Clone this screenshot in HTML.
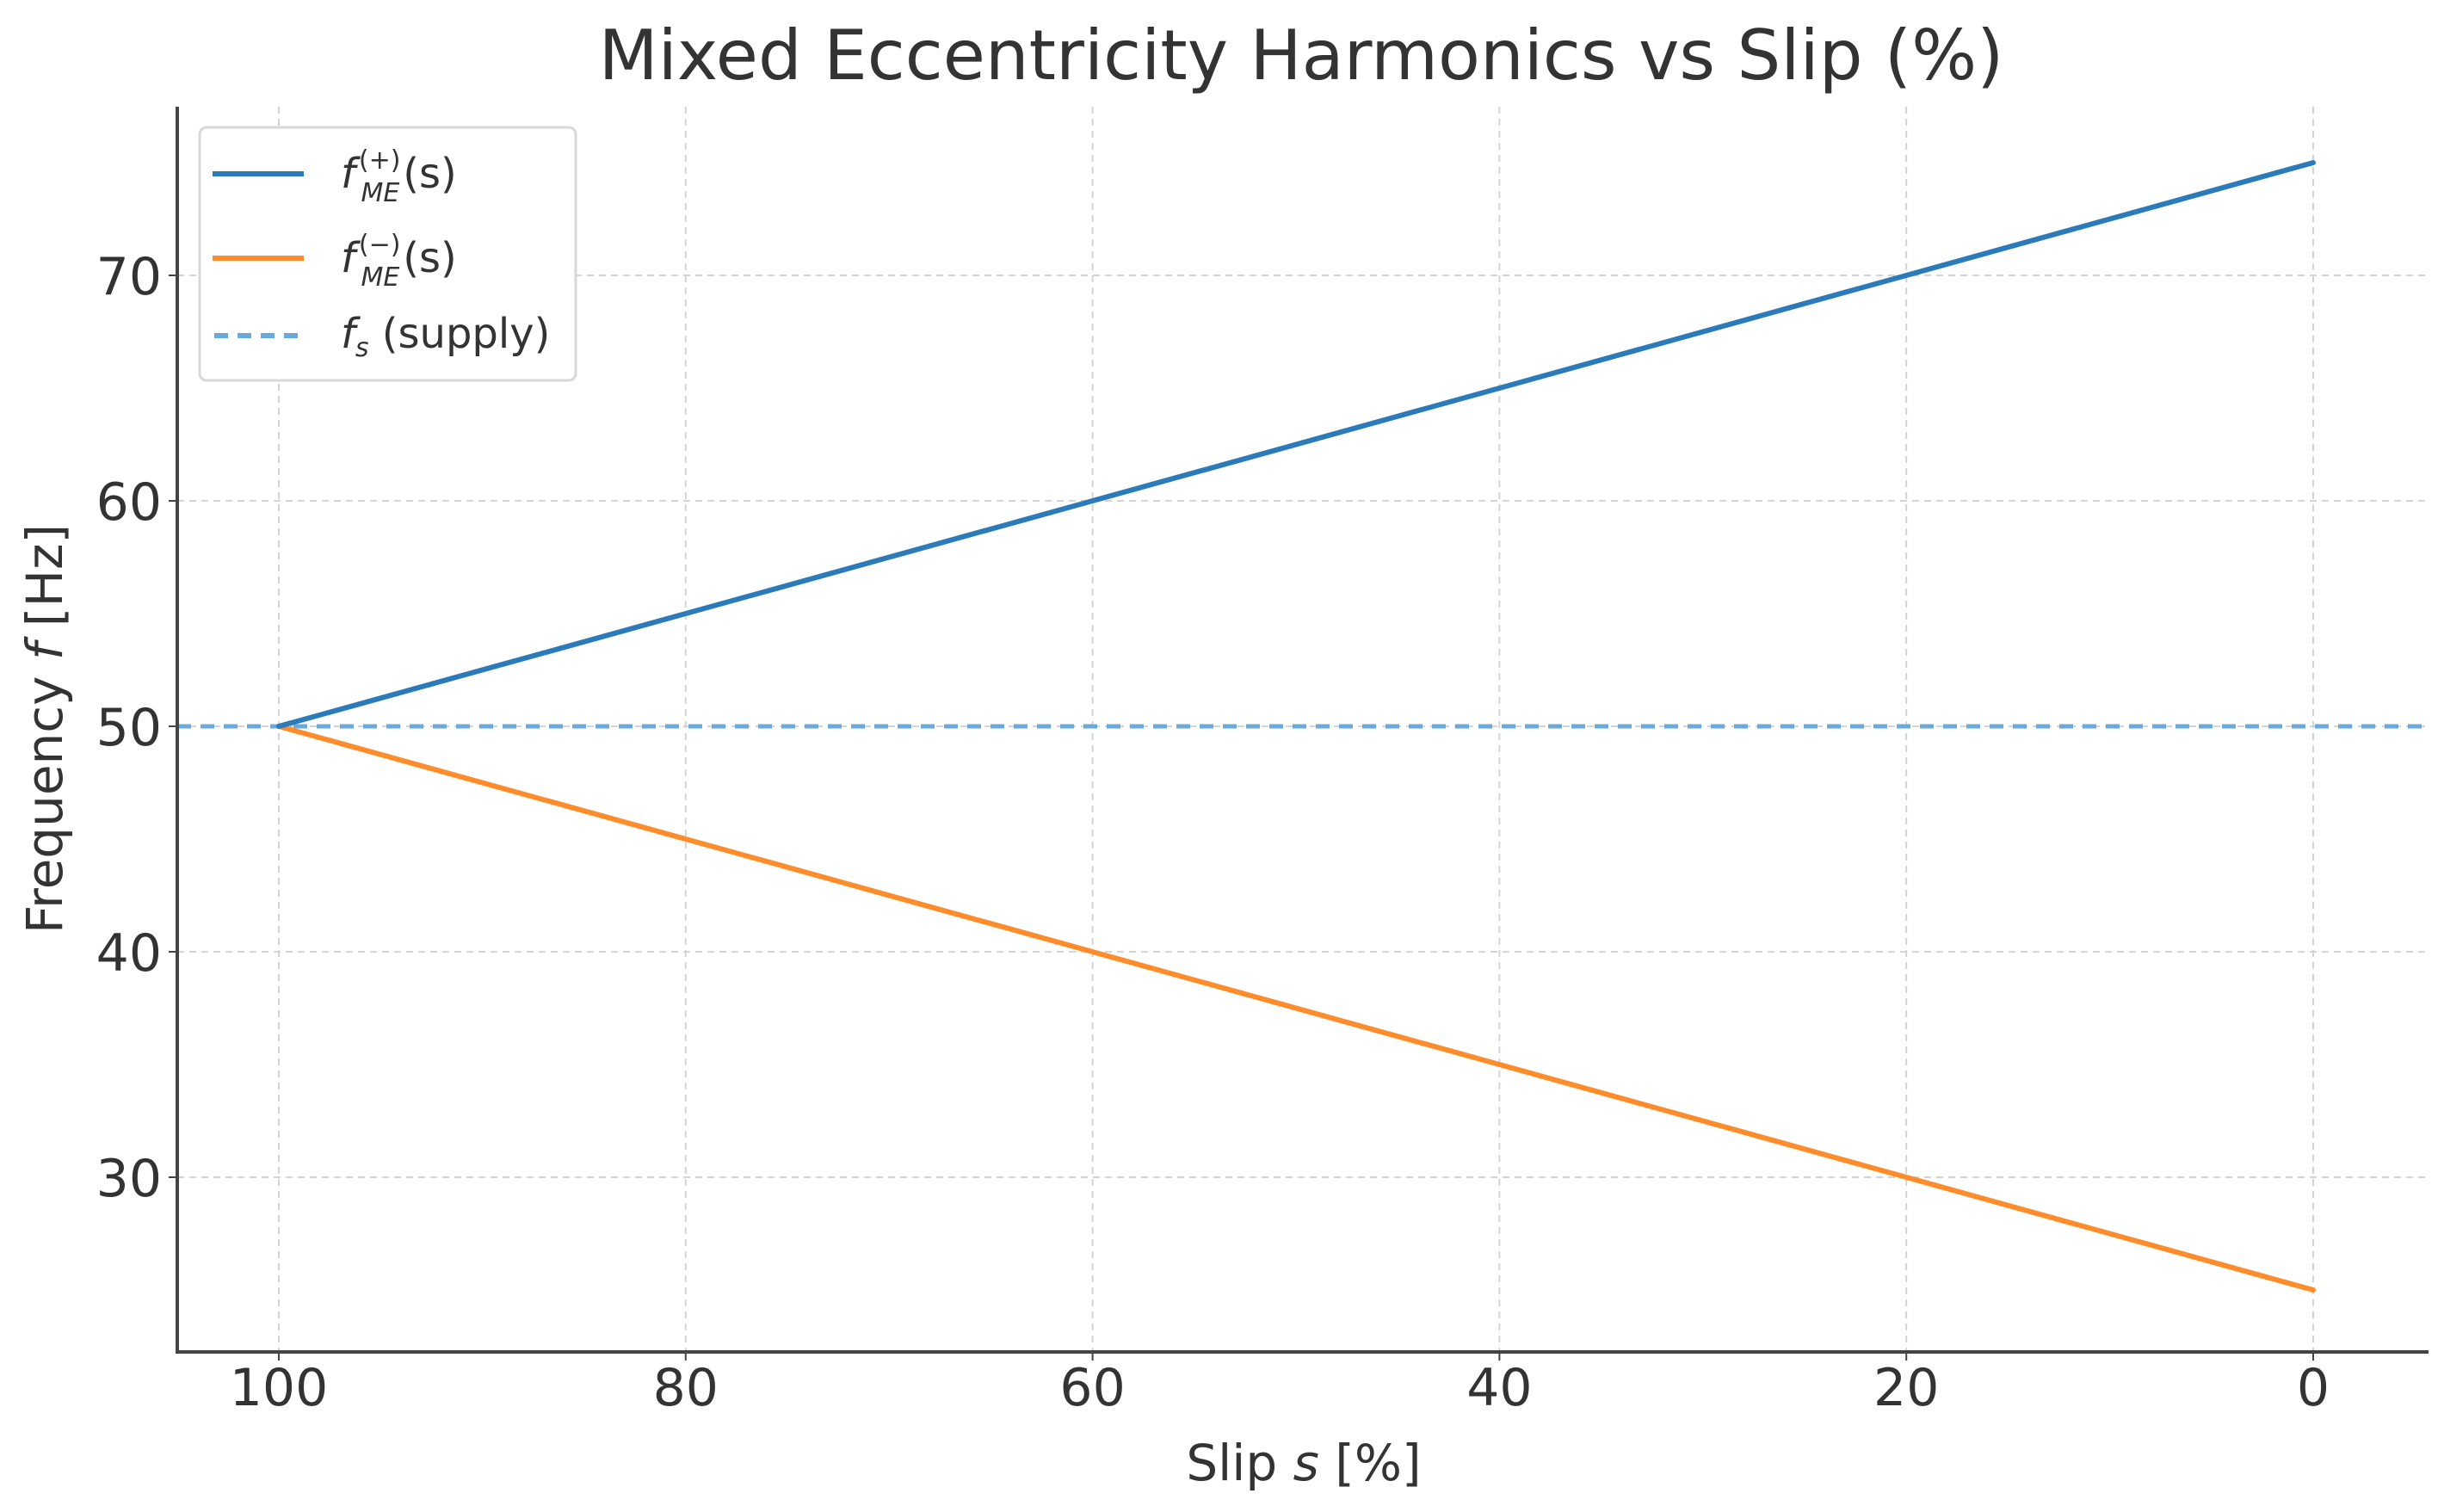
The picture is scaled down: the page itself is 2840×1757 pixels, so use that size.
<!DOCTYPE html>
<html><head><meta charset="utf-8"><style>
html,body{margin:0;padding:0;background:#fff;}
svg{display:block;font-family:"DejaVu Sans","Liberation Sans",sans-serif;}
</style></head><body>
<svg id="chart" width="2840" height="1757" viewBox="0 0 2840 1757">
<text x="1512" y="92" text-anchor="middle" font-size="80" fill="#333">Mixed Eccentricity Harmonics vs Slip (%)</text>
<g id="grid"></g>
<g id="plot"></g>
<g id="axes"></g>
<text x="1515" y="1720" text-anchor="middle" font-size="58" fill="#333">Slip <tspan font-style="italic">s</tspan> [%]</text>
<text transform="translate(72,847) rotate(-90)" text-anchor="middle" font-size="58" fill="#333">Frequency <tspan font-style="italic">f</tspan> [Hz]</text>
<g>
<rect x="232" y="148" width="437" height="294" rx="8" fill="#fff" stroke="#d8d8d8" stroke-width="3"/>
<g>
<line x1="247" y1="202" x2="353" y2="202" stroke="#2b7bba" stroke-width="6"/>
<text x="396" y="218" font-size="48" fill="#333"><tspan font-style="italic">f</tspan><tspan font-size="30" dy="-22" dx="4">(+)</tspan><tspan font-size="30" font-style="italic" dy="38" dx="-46">ME</tspan><tspan dy="-16" dx="4">(s)</tspan></text>
</g>
<g>
<line x1="247" y1="300" x2="353" y2="300" stroke="#ff8c2a" stroke-width="6"/>
<text x="396" y="316" font-size="48" fill="#333"><tspan font-style="italic">f</tspan><tspan font-size="30" dy="-22" dx="4">(−)</tspan><tspan font-size="30" font-style="italic" dy="38" dx="-46">ME</tspan><tspan dy="-16" dx="4">(s)</tspan></text>
</g>
<g>
<line x1="249" y1="390" x2="353" y2="390" stroke="#6aa9dc" stroke-width="6" stroke-dasharray="16 11"/>
<text x="396" y="404" font-size="48" fill="#333"><tspan font-style="italic">f</tspan><tspan font-size="30" font-style="italic" dy="10">s</tspan><tspan dy="-10"> (supply)</tspan></text>
</g>
</g>
</svg>
<script>
const slip = [100, 80, 60, 40, 20, 0];
const fPlus = [50, 55, 60, 65, 70, 75];
const fMinus = [50, 45, 40, 35, 30, 25];
const fSupply = 50;
const xTicks = [100, 80, 60, 40, 20, 0];
const yTicks = [30, 40, 50, 60, 70];

const NS = "http://www.w3.org/2000/svg";
const L = 206, R = 2822, T = 124, B = 1571;
function xs(v){ return 324 + (100 - v) * (2688 - 324) / 100; }
function ys(v){ return 320 + (70 - v) * (1368 - 320) / 40; }
function mk(tag, attrs, parent){
  const e = document.createElementNS(NS, tag);
  for (const k in attrs) e.setAttribute(k, attrs[k]);
  parent.appendChild(e);
  return e;
}
const grid = document.getElementById('grid');
const axes = document.getElementById('axes');
const plot = document.getElementById('plot');

xTicks.forEach(v => {
  const g = mk('line', {x1: xs(v), x2: xs(v), y1: T, y2: B, stroke: '#d4d4d4', 'stroke-width': 2, 'stroke-dasharray': '8 6'}, grid);
  
  
  const t = mk('line', {x1: xs(v), x2: xs(v), y1: B, y2: B + 10, stroke: '#444', 'stroke-width': 2}, axes);
  
  
  const lb = mk('text', {x: xs(v), y: B + 62, 'text-anchor': 'middle', 'font-size': 60, fill: '#333'}, axes);
  lb.textContent = v;
  
  
});
yTicks.forEach(v => {
  const g = mk('line', {x1: L, x2: R, y1: ys(v), y2: ys(v), stroke: '#d4d4d4', 'stroke-width': 2, 'stroke-dasharray': '8 6'}, grid);
  
  
  const t = mk('line', {x1: L - 10, x2: L, y1: ys(v), y2: ys(v), stroke: '#444', 'stroke-width': 2}, axes);
  
  
  const lb = mk('text', {x: 188, y: ys(v) + 22, 'text-anchor': 'end', 'font-size': 60, fill: '#333'}, axes);
  lb.textContent = v;
  
  
});
const sp1 = mk('line', {x1: L, x2: L, y1: T, y2: B + 2, stroke: '#444', 'stroke-width': 4}, axes);


const sp2 = mk('line', {x1: L - 2, x2: R, y1: B, y2: B, stroke: '#444', 'stroke-width': 4}, axes);



const sup = mk('line', {x1: L, x2: R, y1: ys(fSupply), y2: ys(fSupply), stroke: '#6aa9dc', 'stroke-width': 5, 'stroke-dasharray': '16 11'}, plot);


function series(vals, color, name){
  const d = slip.map((s, i) => (i ? 'L' : 'M') + xs(s) + ' ' + ys(vals[i])).join(' ');
  const p = mk('path', {d: d, fill: 'none', stroke: color, 'stroke-width': 6, 'stroke-linecap': 'round'}, plot);
  
  
}
series(fMinus, '#ff8c2a', 'f-minus-line');
series(fPlus, '#2b7bba', 'f-plus-line');
</script>
</body></html>
